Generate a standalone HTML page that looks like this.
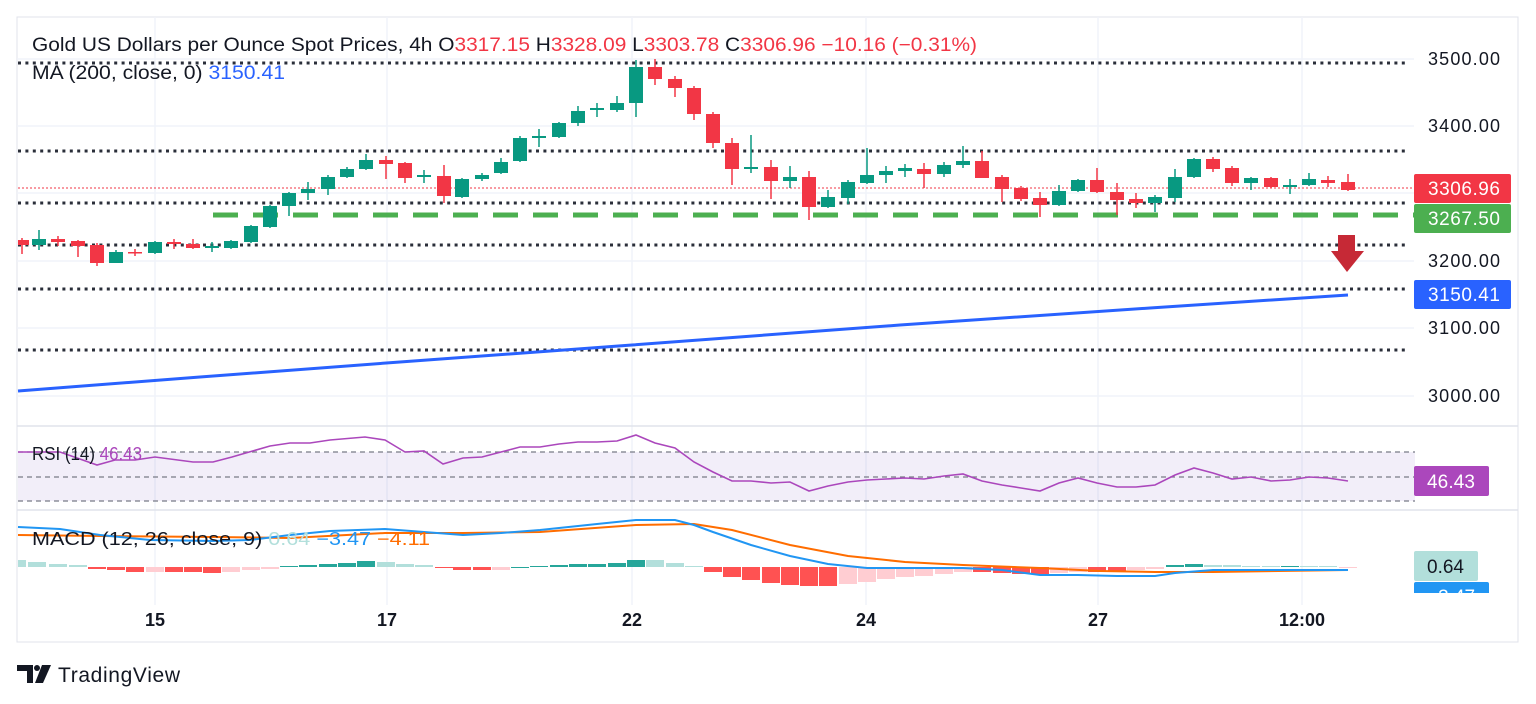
<!DOCTYPE html>
<html><head><meta charset="utf-8"><style>
html,body{margin:0;padding:0;background:#fff;width:1536px;height:704px;overflow:hidden}
svg{display:block;font-family:"Liberation Sans","DejaVu Sans",sans-serif}
</style></head><body>
<svg id="s" width="1536" height="704" viewBox="0 0 1536 704">
<defs><clipPath id="cp"><rect x="18" y="17" width="1396" height="590"/></clipPath></defs>
<rect x="17" y="17" width="1501" height="625" fill="#fff" stroke="#e0e3eb" stroke-width="1"/>
<g stroke="#f0f3fa" stroke-width="1.5">
<line x1="155" y1="17" x2="155" y2="605"/><line x1="387" y1="17" x2="387" y2="605"/>
<line x1="632" y1="17" x2="632" y2="605"/><line x1="866" y1="17" x2="866" y2="605"/>
<line x1="1098" y1="17" x2="1098" y2="605"/><line x1="1302" y1="17" x2="1302" y2="605"/>
<line x1="17" y1="59" x2="1414" y2="59"/><line x1="17" y1="126" x2="1414" y2="126"/>
<line x1="17" y1="193" x2="1414" y2="193"/><line x1="17" y1="261" x2="1414" y2="261"/>
<line x1="17" y1="328" x2="1414" y2="328"/><line x1="17" y1="396" x2="1414" y2="396"/>
</g>
<line x1="17" y1="426" x2="1518" y2="426" stroke="#e0e3eb" stroke-width="1.5"/>
<line x1="17" y1="510" x2="1518" y2="510" stroke="#e0e3eb" stroke-width="1.5"/>
<rect x="18" y="452" width="1397" height="49" fill="#7e57c2" fill-opacity="0.1"/>
<g stroke="#787b86" stroke-width="1.2" stroke-dasharray="5 4">
<line x1="18" y1="452" x2="1415" y2="452"/><line x1="18" y1="477" x2="1415" y2="477"/><line x1="18" y1="501" x2="1415" y2="501"/>
</g>
<g id="dots" stroke="#2a2e39" stroke-width="3" stroke-dasharray="3 4.4">
<line x1="18" y1="63" x2="1406" y2="63"/><line x1="18" y1="151" x2="1406" y2="151"/>
<line x1="18" y1="203" x2="1406" y2="203"/><line x1="18" y1="245" x2="1406" y2="245"/>
<line x1="18" y1="289" x2="1406" y2="289"/><line x1="18" y1="350" x2="1406" y2="350"/>
</g>
<line x1="18" y1="188" x2="1414" y2="188" stroke="#f23645" stroke-width="1" stroke-dasharray="2 2"/>
<line x1="213" y1="215" x2="1414" y2="215" stroke="#4caf50" stroke-width="5" stroke-dasharray="25 15"/>
<polyline fill="none" stroke="#2962ff" stroke-width="3" points="18,391 200,377 400,362 632,345 900,325 1150,308 1348,295"/>
<g id="candles" clip-path="url(#cp)"></g>
<g id="hist" clip-path="url(#cp)"></g>
<polyline fill="none" stroke="#ff6d00" stroke-width="2" points="18,535 100,536 213,537 290,538 385,533 463,533 540,532 636,525 694,524 732,530 790,545 848,556 905,562 963,565 1040,568 1100,571 1155,572 1213,572 1348,570"/>
<polyline fill="none" stroke="#2196f3" stroke-width="2" points="18,527 60,529 100,535 150,540 213,541 250,540 290,535 330,531 385,529 424,532 463,535 501,533 540,530 597,524 636,520 675,520 694,525 713,532 751,545 790,556 828,564 867,568 924,568 963,568 1002,570 1040,575 1078,575 1117,576 1155,576 1175,573 1213,570 1271,570 1348,570"/>
<polyline fill="none" stroke="#ab47bc" stroke-width="1.6" points="18,452 60,452 97,465 115,460 135,460 155,457 193,462 213,462 232,457 270,446 290,443 310,443 330,440 365,437 385,440 405,452 424,451 443,464 463,458 482,457 501,452 520,447 540,447 559,444 578,442 597,442 617,441 636,435 655,443 675,448 694,462 713,472 732,481 751,481 771,483 790,482 809,491 828,486 848,482 867,480 886,479 905,478 924,479 944,476 963,474 982,481 1002,485 1021,488 1040,491 1059,483 1078,478 1097,483 1117,487 1136,487 1155,485 1175,475 1194,468 1213,473 1232,479 1251,477 1271,481 1290,480 1309,477 1328,478 1348,481"/>
<path d="M1338,235 H1355 V251 H1364 L1347,272 L1331,251 H1338 Z" fill="#c62936"/>
<text x="32" y="51" font-size="19" fill="#131722" textLength="945" lengthAdjust="spacingAndGlyphs">Gold US Dollars per Ounce Spot Prices, 4h  O<tspan fill="#f23645">3317.15</tspan>  H<tspan fill="#f23645">3328.09</tspan>  L<tspan fill="#f23645">3303.78</tspan>  C<tspan fill="#f23645">3306.96  −10.16 (−0.31%)</tspan></text>
<text x="32" y="79" font-size="19" fill="#131722" textLength="253" lengthAdjust="spacingAndGlyphs">MA (200, close, 0)  <tspan fill="#2962ff">3150.41</tspan></text>
<text x="32" y="460" font-size="18" fill="#131722" textLength="110" lengthAdjust="spacingAndGlyphs">RSI (14)  <tspan fill="#ab47bc">46.43</tspan></text>
<text x="32" y="545" font-size="18" fill="#131722" textLength="398" lengthAdjust="spacingAndGlyphs">MACD (12, 26, close, 9)  <tspan fill="#b2dfdb">0.64</tspan>  <tspan fill="#2196f3">−3.47</tspan>  <tspan fill="#ff6d00">−4.11</tspan></text>
<g font-size="18" fill="#131722">
<text x="1428" y="65" textLength="72">3500.00</text><text x="1428" y="132" textLength="72">3400.00</text>
<text x="1428" y="267" textLength="72">3200.00</text><text x="1428" y="334" textLength="72">3100.00</text><text x="1428" y="402" textLength="72">3000.00</text>
</g>
<rect x="1414" y="174" width="97" height="29" rx="2" fill="#f23645"/>
<text x="1428" y="195" font-size="19" fill="#fff" textLength="72">3306.96</text>
<rect x="1414" y="204" width="97" height="29" rx="2" fill="#4caf50"/>
<text x="1428" y="225" font-size="19" fill="#fff" textLength="72">3267.50</text>
<rect x="1414" y="280" width="97" height="29" rx="2" fill="#2962ff"/>
<text x="1428" y="301" font-size="19" fill="#fff" textLength="72">3150.41</text>
<rect x="1414" y="466" width="75" height="30" rx="2" fill="#ab47bc"/>
<text x="1427" y="488" font-size="19" fill="#fff" textLength="48">46.43</text>
<rect x="1414" y="582" width="75" height="22" rx="2" fill="#2196f3"/>
<text x="1427" y="603" font-size="19" fill="#fff">−3.47</text>
<rect x="1414" y="551" width="64" height="30" rx="2" fill="#b2dfdb"/>
<text x="1427" y="573" font-size="19" fill="#131722">0.64</text>
<rect x="1414" y="593" width="100" height="48" fill="#fff"/>
<g font-size="18" font-weight="bold" fill="#131722" text-anchor="middle">
<text x="155" y="626">15</text><text x="387" y="626">17</text><text x="632" y="626">22</text>
<text x="866" y="626">24</text><text x="1098" y="626">27</text><text x="1302" y="626">12:00</text>
</g>
<path d="M17,665 H33 V683 H27 V671 H17 Z" fill="#131722"/>
<circle cx="37" cy="668" r="3" fill="#131722"/>
<path d="M42,665 H51 L43,683 H35 Z" fill="#131722"/>
<text x="58" y="682" font-size="21" fill="#131722" textLength="122">TradingView</text>
</svg>
<script>
var NS="http://www.w3.org/2000/svg";
function el(p,t,a){var e=document.createElementNS(NS,t);for(var k in a)e.setAttribute(k,a[k]);p.appendChild(e);}
var C=[[22,240,245,238,254,'r'],[39,239,245,230,250,'g'],[58,239,242,236,246,'r'],[78,241,246,240,257,'r'],[97,245,263,243,266,'r'],[116,252,263,250,263,'g'],[135,252,253,249,256,'r'],[155,242,253,241,254,'g'],[174,242,244,239,249,'r'],[193,244,248,239,249,'r'],[212,246,248,242,252,'g'],[231,241,248,240,249,'g'],[251,226,242,225,243,'g'],[270,206,227,205,228,'g'],[289,193,206,192,216,'g'],[308,189,193,182,200,'g'],[328,177,189,175,195,'g'],[347,169,177,167,178,'g'],[366,160,169,154,170,'g'],[386,160,164,156,179,'r'],[405,163,178,162,183,'r'],[424,175,177,170,183,'g'],[444,176,196,165,203,'r'],[462,179,197,178,198,'g'],[482,175,179,173,181,'g'],[501,162,173,158,174,'g'],[520,138,161,136,162,'g'],[539,136,138,129,147,'g'],[559,123,137,122,138,'g'],[578,111,123,106,126,'g'],[597,108,110,103,117,'g'],[617,103,110,96,112,'g'],[636,67,103,60,117,'g'],[655,67,79,59,85,'r'],[675,79,88,76,97,'r'],[694,88,114,86,120,'r'],[713,114,143,112,148,'r'],[732,143,169,138,185,'r'],[751,167,169,135,173,'g'],[771,167,181,160,199,'r'],[790,177,181,166,188,'g'],[809,177,207,171,220,'r'],[828,197,207,190,208,'g'],[848,182,198,180,204,'g'],[867,175,183,148,184,'g'],[886,171,175,166,183,'g'],[905,168,171,164,177,'g'],[924,169,174,163,188,'r'],[944,165,174,162,177,'g'],[963,161,165,146,168,'g'],[982,161,178,151,178,'r'],[1002,177,189,175,202,'r'],[1021,188,199,186,201,'r'],[1040,198,205,192,217,'r'],[1059,191,205,185,206,'g'],[1078,180,191,179,192,'g'],[1097,180,192,168,193,'r'],[1117,192,200,183,215,'r'],[1136,199,203,193,208,'r'],[1155,197,203,195,212,'g'],[1175,177,198,169,202,'g'],[1194,159,177,158,178,'g'],[1213,159,169,157,172,'r'],[1232,168,183,166,186,'r'],[1251,178,183,177,190,'g'],[1271,178,187,177,188,'r'],[1290,185,187,179,194,'g'],[1309,179,185,173,186,'g'],[1328,180,183,176,187,'r'],[1348,182,190,174,191,'r']];
var g=document.getElementById('candles');
C.forEach(function(c){var col=c[5]=='g'?'#089981':'#f23645';
el(g,'line',{x1:c[0],x2:c[0],y1:c[3],y2:c[4],stroke:col,'stroke-width':1.5});
el(g,'rect',{x:c[0]-7,y:c[1],width:14,height:Math.max(c[2]-c[1],1.5),fill:col});});
var H=[[17,560,'l'],[37,562,'l'],[58,564,'l'],[78,565,'l'],[97,569,'r'],[116,570,'r'],[135,572,'r'],[155,572,'p'],[174,572,'r'],[193,572,'r'],[212,573,'r'],[231,572,'p'],[251,570,'p'],[270,569,'p'],[289,566,'t'],[308,565,'t'],[328,564,'t'],[347,563,'t'],[366,561,'t'],[386,562,'l'],[405,564,'l'],[424,565,'l'],[444,568,'r'],[462,570,'r'],[482,570,'r'],[501,570,'p'],[520,567,'t'],[539,566,'t'],[559,565,'t'],[578,564,'t'],[597,564,'t'],[617,563,'t'],[636,560,'t'],[655,560,'l'],[675,563,'l'],[694,566,'l'],[713,572,'r'],[732,577,'r'],[751,580,'r'],[771,583,'r'],[790,585,'r'],[809,586,'r'],[828,586,'r'],[848,584,'p'],[867,582,'p'],[886,579,'p'],[905,577,'p'],[924,576,'p'],[944,574,'p'],[963,572,'p'],[982,572,'r'],[1002,573,'r'],[1021,574,'r'],[1040,574,'r'],[1059,573,'p'],[1078,572,'p'],[1097,572,'r'],[1117,572,'r'],[1136,570,'p'],[1155,569,'p'],[1175,565,'t'],[1194,564,'t'],[1213,565,'l'],[1232,565,'l'],[1251,566,'l'],[1271,566,'l'],[1290,566,'t'],[1309,566,'l'],[1328,566,'l'],[1348,568,'p']];
var cm={l:'#b2dfdb',t:'#26a69a',r:'#ff5252',p:'#ffcdd2'};var hg=document.getElementById('hist');
H.forEach(function(h){var z=567,y1=Math.min(h[1],z),y2=Math.max(h[1],z);
el(hg,'rect',{x:h[0]-9,y:y1,width:18,height:Math.max(y2-y1,1),fill:cm[h[2]]});});
</script>
</body></html>
